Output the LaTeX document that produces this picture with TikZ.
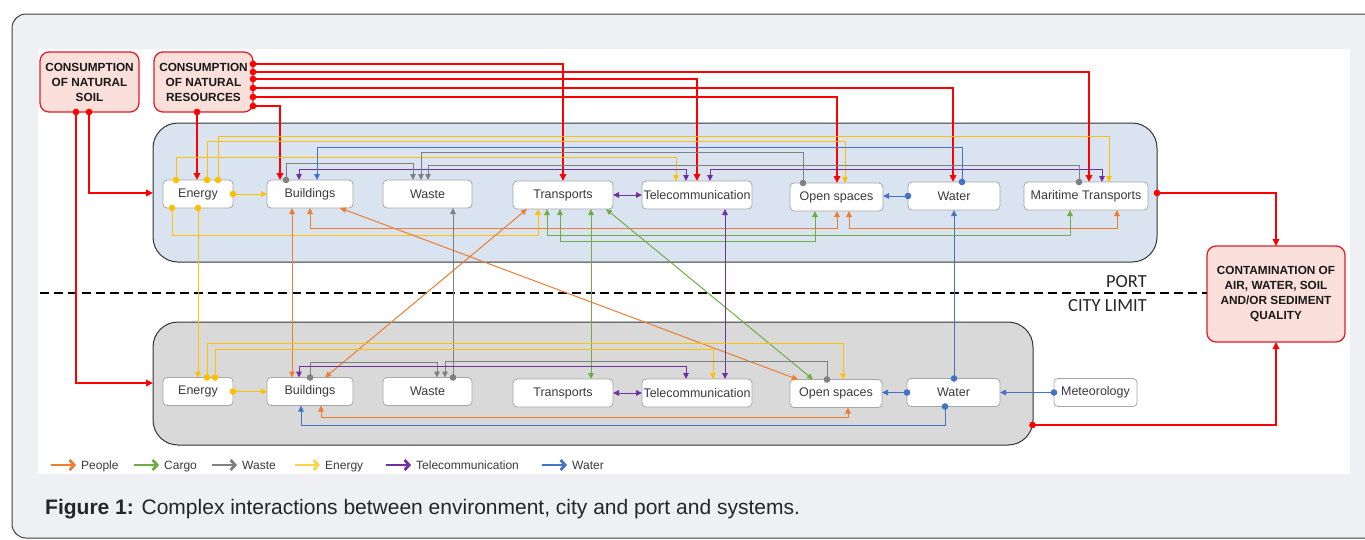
\documentclass[tikz,border=0pt]{standalone}
\usepackage{fontspec}
\setmainfont{Liberation Sans}
\newfontfamily\calfont{Carlito}
\usetikzlibrary{arrows.meta,calc}
\definecolor{cOr}{HTML}{ED7D31}
\definecolor{cGr}{HTML}{70AD47}
\definecolor{cWs}{HTML}{808080}
\definecolor{cYe}{HTML}{FFC000}
\definecolor{cPu}{HTML}{7030A0}
\definecolor{cBl}{HTML}{4472C4}
\definecolor{cRd}{HTML}{FF0000}
\definecolor{bgGrey}{HTML}{EEF0F3}
\definecolor{portFill}{HTML}{DAE4F1}
\definecolor{cityFill}{HTML}{D9D9D9}
\definecolor{pinkFill}{HTML}{FADFDA}
\definecolor{boxRed}{HTML}{E01E28}
\definecolor{txtGrey}{HTML}{3A3A3A}
\begin{document}
\begin{tikzpicture}[x=1pt,y=-1pt,
  sys/.style={draw=black!35, fill=white, rounded corners=4pt, minimum height=28pt, inner sep=0pt, outer sep=0pt, font=\fontsize{12.5}{14}\selectfont, text=txtGrey, line width=0.8pt},
  pinkbox/.style={draw=boxRed, fill=pinkFill, rounded corners=9pt, line width=1.3pt, inner sep=0pt, outer sep=0pt, align=center, font=\fontsize{11.8}{15}\selectfont\bfseries, text=black!90},
  panel/.style={draw=black!80, rounded corners=25pt, line width=1pt, inner sep=0pt, outer sep=0pt},
  ln/.style={line width=1pt},
  dar/.style={ln, {Circle[length=6.5pt]}-{Triangle[length=6pt,width=5.5pt]}, shorten <=-3.25pt},
  bar/.style={ln, {Triangle[length=6pt,width=5.5pt]}-{Triangle[length=6pt,width=5.5pt]}},
  rdot/.style={cRd, line width=2pt, {Circle[length=6.5pt]}-{Triangle[length=7pt,width=6.5pt]}, shorten <=-3.25pt},
  legtext/.style={anchor=base west, inner sep=0pt, font=\fontsize{12}{14}\selectfont, text=txtGrey},
  legarrow/.style={line width=2.8pt, -{Straight Barb[length=4.5pt,width=10pt]}, shorten >=5pt}
]
\useasboundingbox (0,0) rectangle (1365,539);
\fill[white] (0,0) rectangle (1365,539);
\draw[fill=bgGrey, draw=black!75, line width=1pt, rounded corners=14pt] (12,14) rectangle (1400,538);
\fill[white] (38,49) rectangle (1350,474);

% panels
\node[panel, fill=portFill, minimum width=1004pt, minimum height=139pt] (portP) at (655,192.5) {};
\node[panel, fill=cityFill, minimum width=880pt, minimum height=123pt] (cityP) at (593,383.5) {};

% pink boxes
\node[pinkbox, minimum width=99pt, minimum height=60pt] (soil) at (89.5,82) {CONSUMPTION\\OF NATURAL\\SOIL};
\node[pinkbox, minimum width=99pt, minimum height=60pt] (res) at (203.5,82) {CONSUMPTION\\OF NATURAL\\RESOURCES};
\node[pinkbox, minimum width=138pt, minimum height=96pt] (cont) at (1276,294) {CONTAMINATION OF\\AIR, WATER, SOIL\\AND/OR SEDIMENT\\QUALITY};

% port/city limit
\coordinate (dashL) at (40,293);
\draw[line width=2.5pt, dash pattern=on 9pt off 5pt] (dashL) -- (dashL -| cont.west);
\node[anchor=base east, inner sep=0pt, font=\calfont\fontsize{18.5}{20}\selectfont, text=black!85] (portlbl) at (1147,287) {PORT};
\node[anchor=base east, inner sep=0pt, font=\calfont\fontsize{18.5}{20}\selectfont, text=black!85] (citylbl) at (1147,311) {CITY LIMIT};

% port systems
\node[sys, minimum width=70pt] (pE) at (198,194) {Energy};
\node[sys, minimum width=86pt] (pB) at (310,194) {Buildings};
\node[sys, minimum width=89pt] (pW) at (427.5,194) {Waste};
\node[sys, minimum width=100pt] (pT) at (563,195) {Transports};
\node[sys, minimum width=110pt] (pTel) at (697,195) {Telecommunication};
\node[sys, minimum width=93pt] (pO) at (836.5,197) {Open spaces};
\node[sys, minimum width=92pt] (pWa) at (954,196) {Water};
\node[sys, minimum width=124pt] (pM) at (1086,196) {Maritime Transports};

% city systems
\node[sys, minimum width=70pt] (cE) at (198,391.5) {Energy};
\node[sys, minimum width=86pt] (cB) at (310,391.5) {Buildings};
\node[sys, minimum width=89pt] (cW) at (427.5,391.5) {Waste};
\node[sys, minimum width=100pt] (cT) at (563,393) {Transports};
\node[sys, minimum width=110pt] (cTel) at (697,393) {Telecommunication};
\node[sys, minimum width=92pt] (cO) at (836,393.5) {Open spaces};
\node[sys, minimum width=93pt] (cWa) at (953.5,392.5) {Water};
\node[sys, minimum width=83pt] (cMet) at (1095.5,392.5) {Meteorology};

% red resource lines
\draw[rdot] (res.east |- 0,64) -| (pT.north);
\draw[rdot] (res.east |- 0,72) -| (1089,0 |- pM.north);
\draw[rdot] (res.east |- 0,79) -| (pTel.north);
\draw[rdot] (res.east |- 0,88) -| (953,0 |- pWa.north);
\draw[rdot] (res.east |- 0,97) -| (837,0 |- pO.north);
\draw[rdot] (res.east |- 0,106) -| (280,0 |- pB.north);
\draw[rdot] (197,0 |- res.south) -- (197,0 |- pE.north);
\draw[rdot] (89,0 |- soil.south) |- (portP.west |- 0,193);
\draw[rdot] (76,0 |- soil.south) |- (cityP.west |- 0,383);
\draw[rdot] (portP.east |- 0,193) -| (cont.north);
\draw[rdot] (1032.5,425) -| (cont.south);

% port: energy
\draw[dar, cYe] (176,0 |- pE.north) |- (676,157) -- (676,0 |- pTel.north);
\draw[dar, cYe] (207,0 |- pE.north) |- (845,141) -- (845,0 |- pO.north);
\draw[dar, cYe] (218,0 |- pE.north) |- (1109,136) -- (1109,0 |- pM.north);
\draw[dar, cYe] (pE.east) -- (pB.west);
\draw[dar, cYe] (172,0 |- pE.south) |- (538,235) -- (538,0 |- pT.south);
\draw[dar, cYe] (pE.south) -- (cE.north);

% port: people
\draw[bar, cOr] (310,0 |- pB.south) |- (837,228) -- (837,0 |- pO.south);
\draw[bar, cOr] (849,0 |- pO.south) |- (1117,228) -- (1117,0 |- pM.south);
\draw[bar, cOr] (292,0 |- pB.south) -- (292,0 |- cB.north);
\draw[bar, cOr] (340,0 |- pB.south) -- (798,0 |- cO.north);
\draw[bar, cOr] (527,0 |- pT.south) -- (325,0 |- cB.north);

% port: cargo
\draw[bar, cGr] (547,0 |- pT.south) |- (1070,235) -- (1070,0 |- pM.south);
\draw[bar, cGr] (560,0 |- pT.south) |- (815,241) -- (815,0 |- pO.south);
\draw[bar, cGr] (591,0 |- pT.south) -- (591,0 |- cT.north);
\draw[bar, cGr] (606,0 |- pT.south) -- (813,0 |- cO.north);

% port: telecommunication
\draw[bar, cPu] (pT.east) -- (pTel.west);
\draw[bar, cPu] (299,0 |- pB.north) |- (686,169) -- (686,0 |- pTel.north);
\draw[bar, cPu] (710,0 |- pTel.north) |- (1102,169) -- (1102,0 |- pM.north);
\draw[bar, cPu] (725,0 |- pTel.south) -- (725,0 |- cTel.north);

% port: waste
\draw[dar, cWs] (286,0 |- pB.north) |- (413,163) -- (413,0 |- pW.north);
\draw[dar, cWs] (803,0 |- pO.north) |- (421,152) -- (421,0 |- pW.north);
\draw[dar, cWs] (1079,0 |- pM.north) |- (428,165) -- (428,0 |- pW.north);
\draw[dar, cWs] (453,0 |- cW.north) -- (453,0 |- pW.south);

% port: water
\draw[dar, cBl] (962,0 |- pWa.north) |- (317,147) -- (317,0 |- pB.north);
\draw[dar, cBl] (pWa.west) -- (pWa.west -| pO.east);
\draw[dar, cBl] (954,0 |- cWa.north) -- (954,0 |- pWa.south);

% city
\draw[dar, cYe] (207,0 |- cE.north) |- (843,343) -- (843,0 |- cO.north);
\draw[dar, cYe] (215,0 |- cE.north) |- (713,349) -- (713,0 |- cTel.north);
\draw[dar, cYe] (cE.east) -- (cB.west);
\draw[dar, cWs] (310,0 |- cB.north) |- (437,362) -- (437,0 |- cW.north);
\draw[dar, cWs] (827,0 |- cO.north) |- (445,361) -- (445,0 |- cW.north);
\draw[bar, cPu] (299,0 |- cB.north) |- (686,366) -- (686,0 |- cTel.north);
\draw[bar, cPu] (cT.east) -- (cTel.west);
\draw[bar, cOr] (321,0 |- cB.south) |- (848,417) -- (848,0 |- cO.south);
\draw[dar, cBl] (945,0 |- cWa.south) |- (301,425) -- (301,0 |- cB.south);
\draw[dar, cBl] (cWa.west) -- (cWa.west -| cO.east);
\draw[dar, cBl] (cMet.west) -- (cMet.west -| cWa.east);

% legend
\coordinate (la1) at (51,465); \node[legtext] (lt1) at (81,469.5) {People};
\coordinate (la2) at (134,465); \node[legtext] (lt2) at (164,469.5) {Cargo};
\coordinate (la3) at (212,465); \node[legtext] (lt3) at (242,469.5) {Waste};
\coordinate (la4) at (295,465); \node[legtext] (lt4) at (325,469.5) {Energy};
\coordinate (la5) at (386,465); \node[legtext] (lt5) at (416,469.5) {Telecommunication};
\coordinate (la6) at (542,465); \node[legtext] (lt6) at (572,469.5) {Water};
\draw[legarrow, cOr] (la1) -- (la1 -| lt1.west);
\draw[legarrow, cGr] (la2) -- (la2 -| lt2.west);
\draw[legarrow, cWs] (la3) -- (la3 -| lt3.west);
\draw[legarrow, cYe!70] (la4) -- (la4 -| lt4.west);
\draw[legarrow, cPu] (la5) -- (la5 -| lt5.west);
\draw[legarrow, cBl] (la6) -- (la6 -| lt6.west);

% caption
\node[anchor=base west, inner sep=0pt, font=\fontsize{21}{24}\selectfont, text=black!85] (cap) at (45,514) {\textbf{Figure 1:} Complex interactions between environment, city and port and systems.};
\end{tikzpicture}
\end{document}
